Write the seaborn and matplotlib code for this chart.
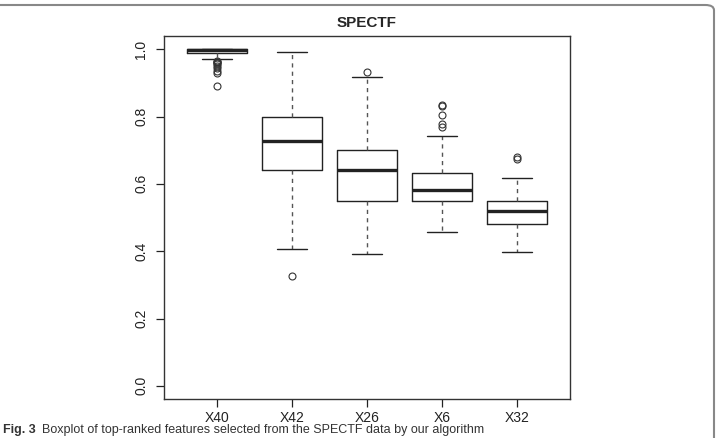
import matplotlib
matplotlib.use("Agg")
import matplotlib.pyplot as plt
import seaborn as sns
from matplotlib.patches import FancyBboxPatch

# boxplot summary values
labels = ["X40", "X42", "X26", "X6", "X32"]
whislo = [0.971, 0.406, 0.391, 0.456, 0.397]
q1 = [0.988, 0.641, 0.549, 0.549, 0.480]
med = [0.998, 0.727, 0.640, 0.582, 0.520]
q3 = [1.000, 0.800, 0.700, 0.631, 0.550]
whishi = [1.000, 0.992, 0.916, 0.742, 0.616]
fliers = [
    [0.966, 0.963, 0.961, 0.958, 0.955, 0.950, 0.944, 0.936, 0.928, 0.890],
    [0.327],
    [0.933],
    [0.833, 0.830, 0.804, 0.779, 0.770],
    [0.681, 0.673],
]

sns.set_style("ticks")
plt.rcParams['font.family'] = ['Liberation Sans', 'DejaVu Sans']

fig = plt.figure(figsize=(7.2, 4.38), dpi=100)
ax = fig.add_axes([164 / 720, 1 - 399.3 / 438, (570 - 164) / 720, (399.3 - 35.7) / 438])

stats = []
for i in range(len(labels)):
    stats.append(dict(label=labels[i], whislo=whislo[i], q1=q1[i], med=med[i],
                      q3=q3[i], whishi=whishi[i], fliers=fliers[i]))

ax.bxp(stats, positions=range(1, len(labels) + 1), widths=0.8,
       boxprops=dict(color="#222222", linewidth=1.0),
       medianprops=dict(color="#222222", linewidth=2.4),
       whiskerprops=dict(color="#555555", linewidth=1.0, linestyle=(0, (3, 3))),
       capprops=dict(color="#222222", linewidth=1.0),
       flierprops=dict(marker="o", markersize=5, markerfacecolor="none",
                       markeredgecolor="#333333", markeredgewidth=0.8))

ax.set_xlim(0.3, 5.7)
ax.set_ylim(-0.04, 1.04)
ax.set_yticks([0.0, 0.2, 0.4, 0.6, 0.8, 1.0])
ax.set_yticklabels(["0.0", "0.2", "0.4", "0.6", "0.8", "1.0"], rotation=90, va="center")
ax.set_xticks(range(1, len(labels) + 1))
ax.set_xticklabels(labels)
ax.tick_params(axis="both", direction="out", length=5.5, width=0.9, colors="#222222",
               labelsize=10, pad=3)
ax.tick_params(axis="y", pad=6)
for s in ax.spines.values():
    s.set_color("#333333")
    s.set_linewidth(1.0)
ax.set_title("SPECTF", fontsize=11, fontweight="bold", pad=6)

# outer frame of the figure panel
frame = FancyBboxPatch((-0.05, -0.05), 714 / 720 + 0.05, 433 / 438 + 0.05,
                       boxstyle="round,pad=0,rounding_size=0.012",
                       transform=fig.transFigure, fill=False,
                       edgecolor="#888888", linewidth=1.5)
fig.patches.append(frame)

cap_y = 1 - 430 / 438
fig.text(0.004, cap_y, "Fig. 3", fontsize=9, fontweight="bold",
         color="#333333", va="center")
fig.text(0.058, cap_y, "Boxplot of top-ranked features selected from the SPECTF data by our algorithm",
         fontsize=9, color="#333333", va="center")

fig.savefig("out.png", dpi=100, facecolor="white")
